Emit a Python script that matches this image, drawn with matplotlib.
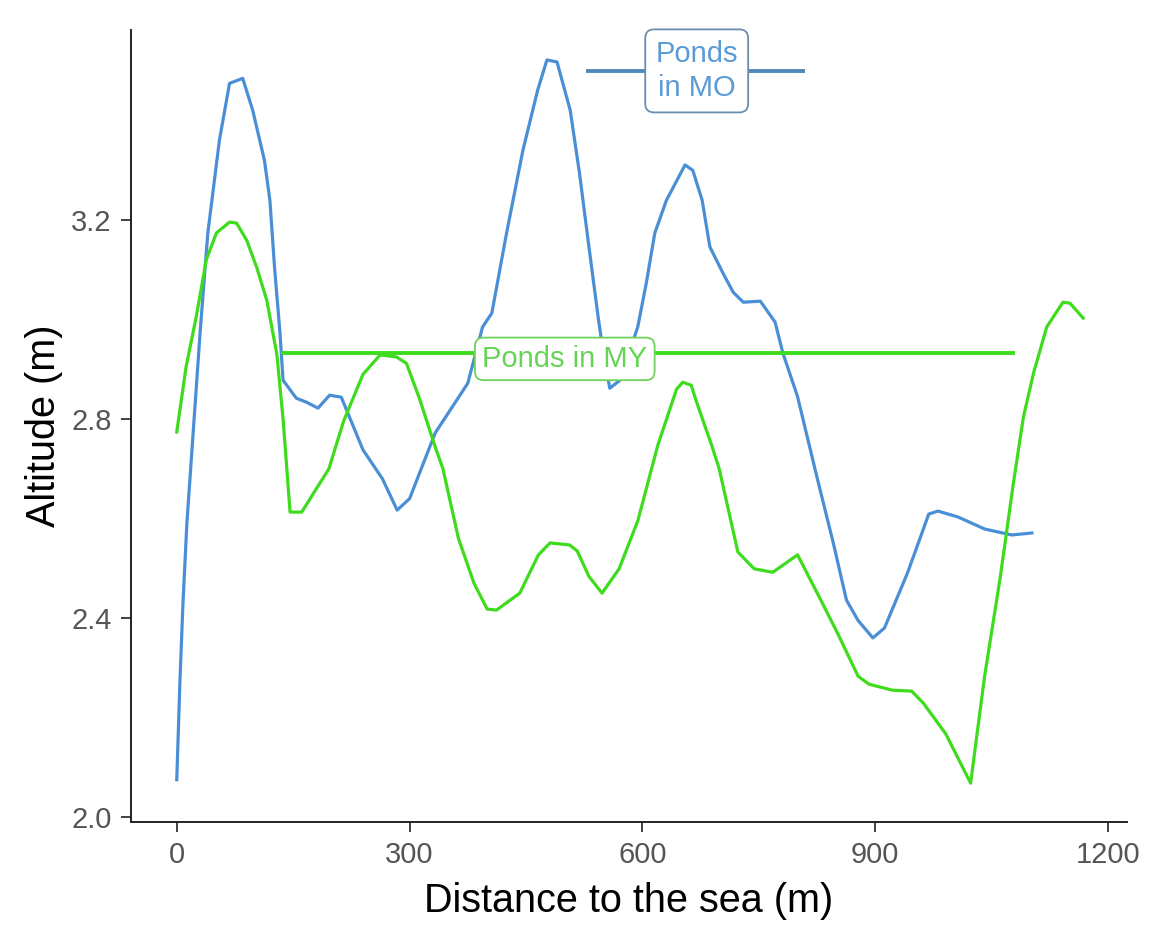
import matplotlib
matplotlib.use("Agg")
import matplotlib.pyplot as plt

plt.rcParams['font.family'] = ['Liberation Sans', 'DejaVu Sans']

# Ponds in MO profile
mo_x = [0, 4, 8, 13, 21, 30, 40, 55, 68, 85, 98, 113, 120, 126, 133, 137, 154, 167, 182,
        197, 212, 240, 265, 284, 300, 333, 375, 394, 406, 425, 446, 465, 477, 490, 507,
        519, 530, 543, 550, 558, 571, 594, 605, 616, 631, 655, 665, 677, 687, 704, 717,
        730, 752, 771, 781, 800, 825, 846, 863, 878, 897, 912, 942, 969, 981, 1007, 1041,
        1076, 1102]
mo_y = [2.075, 2.27, 2.43, 2.59, 2.77, 2.973, 3.174, 3.361, 3.475, 3.485, 3.42, 3.32, 3.24,
        3.105, 2.973, 2.878, 2.842, 2.834, 2.822, 2.848, 2.844, 2.738, 2.68, 2.617, 2.64,
        2.772, 2.872, 2.985, 3.013, 3.174, 3.34, 3.461, 3.522, 3.518, 3.421, 3.294, 3.16,
        3.005, 2.93, 2.862, 2.878, 2.985, 3.073, 3.174, 3.24, 3.311, 3.30, 3.24, 3.146,
        3.093, 3.055, 3.035, 3.037, 2.995, 2.933, 2.845, 2.683, 2.551, 2.436, 2.395, 2.36,
        2.38, 2.492, 2.609, 2.615, 2.603, 2.579, 2.567, 2.571]

# Ponds in MY profile
my_x = [0, 12, 25, 38, 51, 68, 77, 90, 103, 116, 129, 137, 146, 161, 196, 215, 240, 262,
        283, 296, 313, 333, 343, 363, 383, 400, 412, 442, 466, 481, 506, 516, 531, 548,
        570, 594, 620, 644, 652, 663, 669, 690, 699, 723, 744, 768, 800, 828, 852, 878,
        892, 922, 947, 962, 991, 1023, 1041, 1061, 1078, 1091, 1104, 1121, 1142, 1151, 1168]
my_y = [2.774, 2.905, 3.005, 3.12, 3.174, 3.196, 3.194, 3.16, 3.105, 3.039, 2.93, 2.80,
        2.613, 2.613, 2.70, 2.796, 2.89, 2.929, 2.925, 2.912, 2.84, 2.744, 2.70, 2.56, 2.47,
        2.418, 2.416, 2.45, 2.527, 2.551, 2.547, 2.535, 2.484, 2.45, 2.499, 2.595, 2.748,
        2.86, 2.874, 2.868, 2.838, 2.744, 2.70, 2.533, 2.499, 2.492, 2.527, 2.442, 2.368,
        2.283, 2.267, 2.255, 2.253, 2.229, 2.167, 2.068, 2.283, 2.48, 2.67, 2.804, 2.892,
        2.985, 3.035, 3.033, 3.003]

# Labelled reference lines
mo_line_x = [530, 807]
mo_line_y = 3.50
mo_label = "Ponds\nin MO"
mo_label_x = 670

my_line_x = [137, 1078]
my_line_y = 2.933
my_label = "Ponds in MY"
my_label_x = 500

x_ticks = [0, 300, 600, 900, 1200]
y_ticks = [2.0, 2.4, 2.8, 3.2]
x_label = "Distance to the sea (m)"
y_label = "Altitude (m)"

blue = "#4a8fd6"
blue_line = "#4f88b8"
green = "#3fdc1e"

fig = plt.figure(figsize=(11.5, 9.41), dpi=100)
ax = fig.add_axes([0.1139, 0.1265, 0.8661, 0.8415])

ax.plot(mo_x, mo_y, color=blue, lw=2.3, solid_joinstyle='round', zorder=2)
ax.plot(my_x, my_y, color=green, lw=2.3, solid_joinstyle='round', zorder=2)

ax.plot(my_line_x, [my_line_y, my_line_y], color=green, lw=2.8, zorder=3)
ax.plot(mo_line_x, [mo_line_y, mo_line_y], color=blue_line, lw=2.8, zorder=3)

ax.text(my_label_x, my_line_y - 0.012, my_label, color="#66d455", fontsize=21,
        ha='center', va='center', zorder=5,
        bbox=dict(boxstyle="round,pad=0.25,rounding_size=0.3", fc="white",
                  ec="#6fd25c", lw=1.3))
ax.text(mo_label_x, mo_line_y, mo_label, color="#5b9bd5", fontsize=21,
        ha='center', va='center', zorder=5, linespacing=1.3, clip_on=False,
        bbox=dict(boxstyle="round,pad=0.35,rounding_size=0.3", fc="white",
                  ec="#6b8eae", lw=1.3))

ax.set_xlim(-59, 1224.5)
ax.set_ylim(1.99, 3.582)
ax.set_xticks(x_ticks)
ax.set_yticks(y_ticks)
ax.set_xticklabels([str(v) for v in x_ticks])
ax.set_yticklabels([f"{v:.1f}" for v in y_ticks])

for side in ['top', 'right']:
    ax.spines[side].set_visible(False)
for side in ['left', 'bottom']:
    ax.spines[side].set_linewidth(1.4)
    ax.spines[side].set_color("#222222")

ax.tick_params(axis='both', length=7, width=1.3, color="#333333",
               labelsize=21, labelcolor="#555555")
ax.tick_params(axis='y', pad=7)
ax.tick_params(axis='x', pad=7)

ax.set_xlabel(x_label, fontsize=28.5, color="black", labelpad=9)
ax.set_ylabel(y_label, fontsize=28.5, color="black", labelpad=6)

fig.savefig("out.png", dpi=100, facecolor="white")
